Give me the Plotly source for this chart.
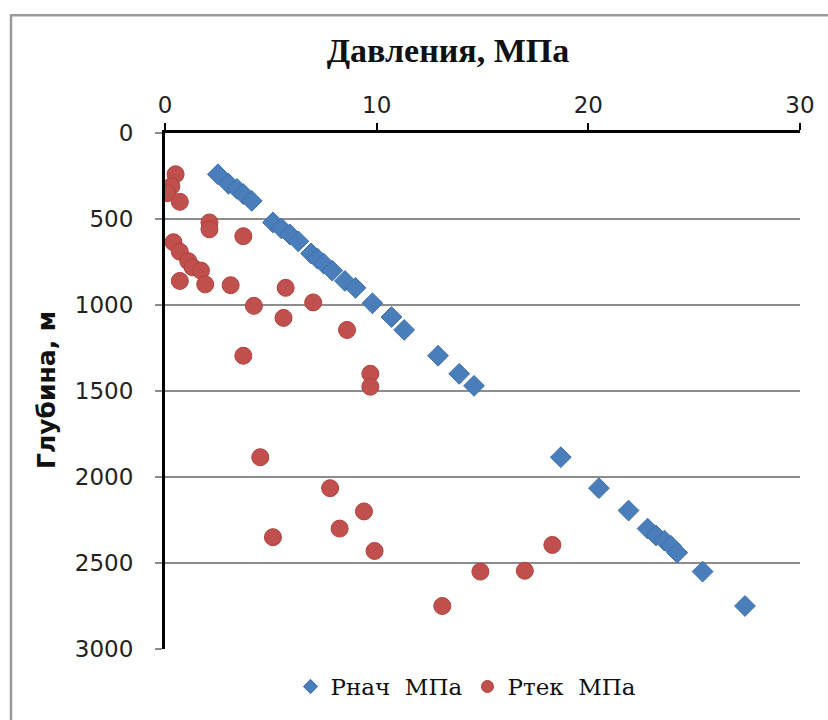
import plotly.graph_objects as go

# Initial pressure (Рнач) vs depth
p_init = [2.5, 3.0, 3.4, 3.7, 4.1, 5.1, 5.5, 5.9, 6.3, 6.9, 7.2, 7.5, 7.9, 8.5, 9.0,
          9.8, 10.7, 11.3, 12.9, 13.9, 14.6, 18.7, 20.5, 21.9, 22.8, 23.2, 23.6,
          23.9, 24.2, 25.4, 27.4]
d_init = [240, 295, 325, 355, 395, 520, 555, 590, 630, 700, 730, 760, 800, 860, 900,
          990, 1070, 1145, 1295, 1400, 1470, 1885, 2065, 2195, 2300, 2340, 2370,
          2400, 2440, 2550, 2750]

# Current pressure (Ртек) vs depth
p_cur = [0.5, 0.3, 0.1, 0.7, 2.1, 2.1, 3.7, 0.4, 0.7, 1.1, 1.3, 1.7, 0.7, 1.9, 3.1,
         5.7, 4.2, 7.0, 5.6, 8.6, 3.7, 9.7, 9.7, 4.5, 7.8, 9.4, 8.25, 5.1, 9.9,
         18.3, 17.0, 14.9, 13.1]
d_cur = [240, 310, 350, 400, 520, 560, 600, 635, 690, 745, 780, 800, 860, 880, 885,
         900, 1005, 985, 1075, 1145, 1295, 1400, 1475, 1885, 2065, 2200, 2300, 2350,
         2430, 2395, 2545, 2550, 2750]

x_ticks = [0, 10, 20, 30]
y_ticks = [0, 500, 1000, 1500, 2000, 2500, 3000]

names = ["Рнач  МПа", "Ртек  МПа"]
colors = ["#4A7EBB", "#C0504D"]
edges = ["#3E6FAA", "#B3403D"]

SERIF = "DejaVu Serif"
SERIF_TITLE = "Tinos, Liberation Serif, DejaVu Serif, serif"
SANS = "DejaVu Sans"

W, H = 828, 720
L, R, T, B = 165, 28, 133, 65
pw, ph = W - L - R, H - T - B


def px_x(p):
    return (p - L) / pw


def px_y(p):
    return (H - B - p) / ph


fig = go.Figure()
fig.add_trace(go.Scatter(
    x=p_init, y=d_init, mode="markers", name=names[0], showlegend=False,
    marker=dict(symbol="diamond", size=16, color=colors[0],
                line=dict(color=edges[0], width=1)),
))
fig.add_trace(go.Scatter(
    x=p_cur, y=d_cur, mode="markers", name=names[1], showlegend=False,
    marker=dict(symbol="circle", size=17, color=colors[1],
                line=dict(color=edges[1], width=1)),
))
# legend entries with the smaller key symbols
for nm, sym, sz, c, e in zip(names, ["diamond", "circle"], [11, 12], colors, edges):
    fig.add_trace(go.Scatter(
        x=[None], y=[None], mode="markers", name=nm,
        marker=dict(symbol=sym, size=sz, color=c, line=dict(color=e, width=1)),
    ))

fig.update_layout(
    width=W, height=H,
    margin=dict(l=L, r=R, t=T, b=B),
    paper_bgcolor="white", plot_bgcolor="white",
    showlegend=True,
    legend=dict(orientation="h", x=px_x(466), y=px_y(693),
                xanchor="center", yanchor="middle",
                font=dict(family=SERIF, size=23, color="#111"),
                itemwidth=30, tracegroupgap=0, bgcolor="rgba(0,0,0,0)"),
    title=dict(text="<b>Давления, МПа</b>", x=448 / W, y=1 - 50 / H,
               xanchor="center", yanchor="middle",
               font=dict(family=SERIF_TITLE, size=34, color="#111")),
)

fig.update_xaxes(
    side="top", range=[0, 30], tickvals=x_ticks, ticktext=[str(v) for v in x_ticks],
    showgrid=False, zeroline=False,
    showline=True, linecolor="black", linewidth=3,
    ticks="outside", ticklen=7, tickwidth=1.5, tickcolor="black",
    ticklabelstandoff=1,
    tickfont=dict(family=SANS, size=23, color="#222"),
)
fig.update_yaxes(
    range=[3000, 0], tickvals=y_ticks, ticktext=[str(v) for v in y_ticks],
    showgrid=True, gridcolor="#8C8C8C", gridwidth=1.5, zeroline=False,
    showline=True, linecolor="black", linewidth=3,
    ticks="outside", ticklen=7, tickwidth=1.5, tickcolor="#8C8C8C",
    ticklabelstandoff=17,
    tickfont=dict(family=SANS, size=23, color="#222"),
)

fig.add_annotation(
    text="<b>Глубина, м</b>", textangle=-90, showarrow=False,
    xref="paper", yref="paper", x=px_x(46), y=px_y(393),
    xanchor="center", yanchor="middle",
    font=dict(family=SANS, size=25, color="#111"),
)

# chart frame
fig.add_shape(type="rect", xref="paper", yref="paper",
              x0=px_x(11), x1=px_x(840), y0=px_y(14), y1=px_y(740),
              line=dict(color="#9A9A9A", width=2.5), fillcolor="rgba(0,0,0,0)",
              layer="below")

fig.write_html("out.html")
